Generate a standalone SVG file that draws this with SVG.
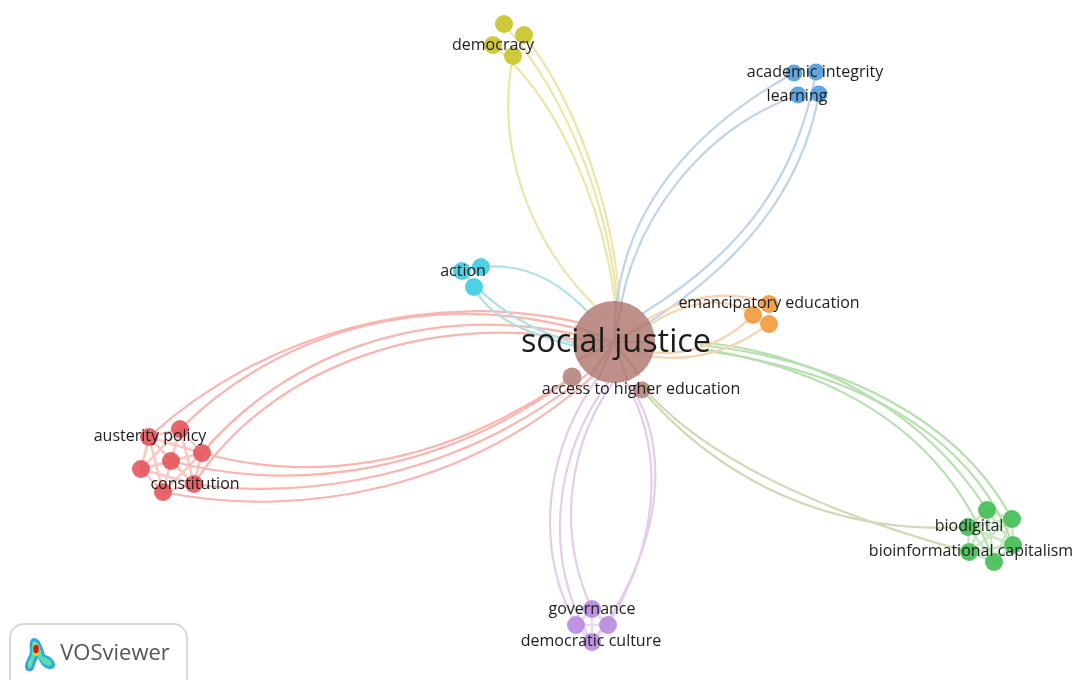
<svg xmlns="http://www.w3.org/2000/svg" width="1073" height="680" viewBox="0 0 1073 680">
<style>
text{font-family:"Open Sans","Noto Sans",sans-serif;fill:#1d1d1d;text-anchor:middle;font-size:16px}
.e{fill:none;stroke-width:2.2}
.in{fill:none;stroke-width:2.5;stroke-opacity:.75}
.r{stroke:#fbb4ae}.g{stroke:#b5e0ae}.gm{stroke:#cfd9b5}.p{stroke:#e3cdea}.y{stroke:#ece5a8}.b{stroke:#bfd3ea}.c{stroke:#aee0e6}.o{stroke:#f9d3ad}
circle{stroke:none}
.nr{fill:#e6555c;fill-opacity:.9}.ng{fill:#4cc05c;fill-opacity:.95}.np{fill:#b98fe0;fill-opacity:.95}.ny{fill:#cdc93a}.nb{fill:#5ea5e2}.nc{fill:#4fd0e4}.no{fill:#f5a24e}.nm{fill:#b98a84;fill-opacity:.95}
.st{fill:none;stroke:#a2625e;stroke-width:2.2;stroke-opacity:.3}
</style>
<defs><filter id="soft" x="-5%" y="-5%" width="110%" height="110%"><feGaussianBlur stdDeviation="0.6"/></filter></defs>
<rect width="1073" height="680" fill="#fff"/>
<g filter="url(#soft)">
<g id="connectors">
<path class="e r" d="M180 429C270 340 420 280 600 335"/>
<path class="e r" d="M202 453C285 355 430 295 600 340"/>
<path class="e r" d="M194 484C270 365 440 305 600 345"/>
<path class="e r" d="M149 437C260 335 430 285 590 325"/>
<path class="e r" d="M202 453C300 480 430 475 572 377"/>
<path class="e r" d="M171 461C300 495 450 470 572 377"/>
<path class="e r" d="M194 484C300 500 460 480 590 372"/>
<path class="e r" d="M163 492C300 520 470 490 600 370"/>
<g class="in r">
<path d="M180 429L149 437M180 429L202 453M180 429L171 461M180 429L141 469M180 429L194 484M149 437L171 461M149 437L202 453M149 437L141 469M149 437L163 492M149 437L194 484M202 453L171 461M202 453L141 469M202 453L194 484M202 453L163 492M171 461L141 469M171 461L194 484M171 461L163 492M141 469L194 484M141 469L163 492M194 484L163 492"/>
</g>
<path class="e g" d="M987 510C930 420 830 355 700 342"/>
<path class="e g" d="M1012 519C960 420 840 360 700 345"/>
<path class="e g" d="M1013 545C970 430 850 370 700 350"/>
<path class="e g" d="M994 562C950 440 850 375 710 350"/>
<path class="e gm" d="M968 527C830 535 720 480 642 390"/>
<path class="e gm" d="M969 552C850 520 720 470 650 395"/>
<g class="in g">
<path d="M987 510L1012 519M987 510L968 527M987 510L1013 545M987 510L969 552M987 510L994 562M1012 519L968 527M1012 519L1013 545M1012 519L969 552M1012 519L994 562M968 527L1013 545M968 527L969 552M968 527L994 562M1013 545L969 552M1013 545L994 562M969 552L994 562"/>
</g>
<path class="e p" d="M576 625C530 540 550 440 600 375"/>
<path class="e p" d="M592 642C540 560 555 450 610 380"/>
<path class="e p" d="M592 609C555 530 570 440 615 380"/>
<path class="e p" d="M608 625C660 540 665 450 625 380"/>
<path class="e p" d="M592 642C650 570 680 460 630 385"/>
<path class="in p" d="M592 609L576 625M592 609L608 625M592 609L592 642M576 625L608 625M576 625L592 642M608 625L592 642"/>
<path class="e y" d="M513 56C495 150 530 250 610 320"/>
<path class="e y" d="M504 24C570 100 610 210 618 310"/>
<path class="e y" d="M524 35C575 100 615 210 620 310"/>
<path class="e y" d="M493 45C560 100 605 210 616 310"/>
<path class="e b" d="M794 73C690 130 625 210 616 310"/>
<path class="e b" d="M798 95C700 130 635 220 620 310"/>
<path class="e b" d="M816 72C795 190 730 260 640 315"/>
<path class="e b" d="M819 94C800 200 730 270 645 325"/>
<path class="e c" d="M481 267C530 262 565 285 600 325"/>
<path class="e c" d="M474 287C490 320 530 335 590 350"/>
<path class="e c" d="M462 271C495 310 530 330 580 345"/>
<path class="e o" d="M769 304C720 285 670 300 625 335"/>
<path class="e o" d="M753 315C720 290 670 305 630 340"/>
<path class="e o" d="M769 324C720 360 670 365 625 350"/>
<path class="e o" d="M753 315C720 350 670 360 630 348"/>
</g>
<g id="n-red">
<circle class="nr" cx="180" cy="429" r="9"/><circle class="nr" cx="149" cy="437" r="9"/><circle class="nr" cx="202" cy="453" r="9"/><circle class="nr" cx="171" cy="461" r="9"/><circle class="nr" cx="141" cy="469" r="9"/><circle class="nr" cx="194" cy="484" r="9"/><circle class="nr" cx="163" cy="492" r="9"/>
</g>
<g id="n-green">
<circle class="ng" cx="987" cy="510" r="9"/><circle class="ng" cx="1012" cy="519" r="9"/><circle class="ng" cx="968" cy="527" r="9"/><circle class="ng" cx="1013" cy="545" r="9"/><circle class="ng" cx="969" cy="552" r="9"/><circle class="ng" cx="994" cy="562" r="9"/>
</g>
<g id="n-purple">
<circle class="np" cx="592" cy="609" r="9"/><circle class="np" cx="576" cy="625" r="9"/><circle class="np" cx="608" cy="625" r="9"/><circle class="np" cx="592" cy="642" r="9"/>
</g>
<g id="n-yellow">
<circle class="ny" cx="504" cy="24" r="9"/><circle class="ny" cx="524" cy="35" r="9"/><circle class="ny" cx="493" cy="45" r="9"/><circle class="ny" cx="513" cy="56" r="9"/>
</g>
<g id="n-blue">
<circle class="nb" cx="794" cy="73" r="8.5"/><circle class="nb" cx="816" cy="72" r="8.5"/><circle class="nb" cx="798" cy="95" r="8.5"/><circle class="nb" cx="819" cy="94" r="8.5"/>
</g>
<g id="n-cyan">
<circle class="nc" cx="481" cy="267" r="9"/><circle class="nc" cx="462" cy="271" r="9"/><circle class="nc" cx="474" cy="287" r="9"/>
</g>
<g id="n-orange">
<circle class="no" cx="769" cy="304" r="9"/><circle class="no" cx="753" cy="315" r="9"/><circle class="no" cx="769" cy="324" r="9"/>
</g>
<g id="n-social-justice"><circle class="nm" cx="614" cy="342" r="41"/>
<path class="st" d="M616 301L614 342M622 302L614 342M575 326L614 342M574 338L614 342M578 360L614 342M590 376L614 342M640 376L614 342M655 342L614 342M650 322L614 342M598 380L614 342M628 381L614 342"/></g>
<g id="n-access"><circle class="nm" cx="572" cy="377" r="9.5"/><circle class="nm" cx="642" cy="390" r="8.5"/></g>
<g id="labels">
<text x="493" y="50">democracy</text>
<text x="815" y="77">academic integrity</text>
<text x="797" y="101">learning</text>
<text x="463" y="276">action</text>
<text x="769" y="308">emancipatory education</text>
<text x="616" y="352" style="font-size:32.4px">social justice</text>
<text x="641" y="394">access to higher education</text>
<text x="150" y="441">austerity policy</text>
<text x="195" y="489">constitution</text>
<text x="969" y="531">biodigital</text>
<text x="971" y="556">bioinformational capitalism</text>
<text x="592" y="614">governance</text>
<text x="591" y="646">democratic culture</text>
</g>
<g id="logo">
<rect x="10" y="624" width="177" height="70" rx="14" fill="#fff" stroke="#d9d9d9" stroke-width="2"/>
<path d="M34 638C40 638 43 648 45 655 50 656 55 660 55 665 55 670 47 670 43 666 41 664 39 660 38 658 36 661 35 665 34 668 32 673 25 672 25 667 25 660 30 657 30 650 29 644 30 638 34 638Z" fill="#2fa8e6"/>
<path d="M34 641C38 641 41 649 42 656 47 658 52 661 52 664 51 667 47 666 44 664 41 661 38 656 36 655 33 659 33 664 31 668 29 669 27 668 28 664 30 659 33 655 32 649 32 645 32 641 34 641Z" fill="#58e0a8"/>
<path d="M35 643C38 644 40 650 39 654 37 657 33 656 33 651 33 647 33 644 35 643ZM30 660C31 660 30 665 29 665 28 665 29 660 30 660Z" fill="#f2d81e"/>
<ellipse cx="36" cy="649" rx="2.8" ry="4.2" fill="#d81818"/>
<text x="115" y="660" style="font-size:22px;fill:#555">VOSviewer</text>
</g>
</g>
</svg>
